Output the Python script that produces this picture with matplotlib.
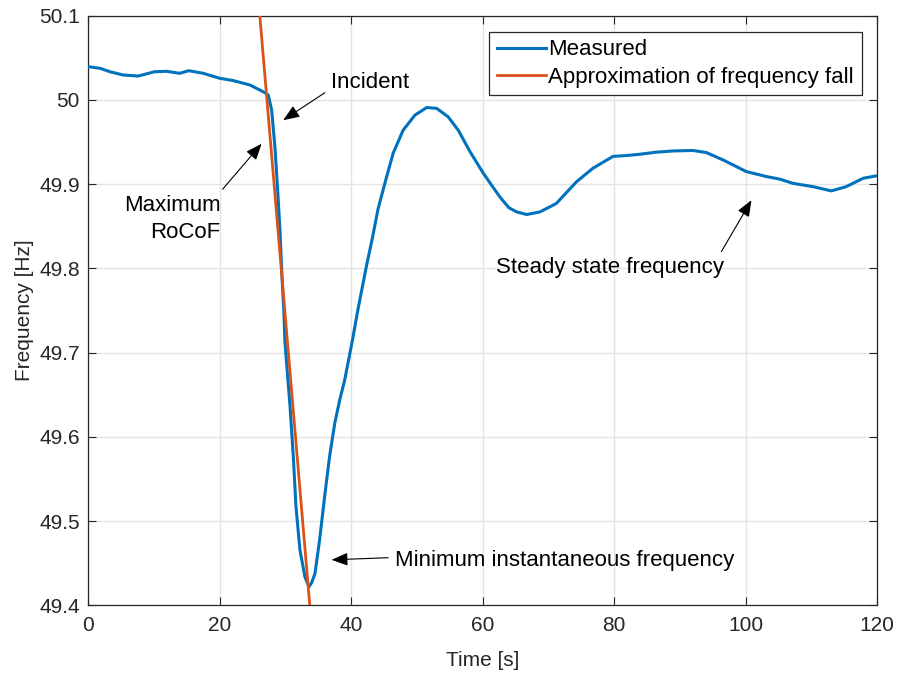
import numpy as np
import matplotlib
matplotlib.use("Agg")
import matplotlib.pyplot as plt

# measured frequency
time_s = [0, 1.8, 3.3, 5.3, 7.6, 10.1, 11.9, 13.9, 15.3, 17.5, 20.0, 22.05, 24.6, 26.1,
          26.87, 27.38, 27.9, 28.4, 28.75, 29.16, 29.5, 29.77, 29.9, 30.3, 30.7, 31.2,
          31.6, 32.2, 32.95, 33.57, 34.0, 34.5, 35.2, 35.96, 36.7, 37.5, 38.26, 39.0,
          39.8, 40.2, 41.0, 42.3, 43.2, 44.1, 45.4, 46.4, 47.9, 49.7, 51.5, 53.0,
          54.75, 56.3, 58.05, 60.1, 62.6, 64.0, 65.2, 66.7, 68.7, 71.2, 74.3, 76.8,
          79.85, 81.9, 83.9, 86.45, 88.97, 92.0, 94.05, 96.6, 100.1, 103.2, 105.2,
          107.2, 110.3, 113.06, 115.3, 117.9, 120]
freq_hz = [50.0395, 50.0375, 50.0335, 50.0296, 50.0284, 50.0335, 50.034, 50.0316, 50.0347,
           50.0316, 50.0257, 50.023, 50.0177, 50.0118, 50.0086, 50.0058, 49.988, 49.944,
           49.901, 49.846, 49.786, 49.747, 49.715, 49.675, 49.636, 49.576, 49.517,
           49.466, 49.434, 49.422, 49.427, 49.438, 49.478, 49.529, 49.576, 49.616,
           49.644, 49.667, 49.699, 49.715, 49.75, 49.802, 49.835, 49.871, 49.909,
           49.937, 49.964, 49.982, 49.991, 49.990, 49.980, 49.964, 49.939, 49.913,
           49.885, 49.872, 49.867, 49.864, 49.867, 49.877, 49.903, 49.919, 49.933,
           49.934, 49.9355, 49.938, 49.9394, 49.940, 49.9375, 49.9287, 49.915, 49.909,
           49.906, 49.901, 49.897, 49.892, 49.897, 49.907, 49.910]

# linear approximation of the frequency fall
approx_t = [26.1, 33.7]
approx_f = [50.1, 49.4]

xticks = [0, 20, 40, 60, 80, 100, 120]
yticks = [49.4, 49.5, 49.6, 49.7, 49.8, 49.9, 50.0, 50.1]
yticklabels = ["49.4", "49.5", "49.6", "49.7", "49.8", "49.9", "50", "50.1"]

plt.rcParams['font.family'] = ['Liberation Sans', 'DejaVu Sans']
dark = '#262626'

fig = plt.figure(figsize=(8.98, 6.77), dpi=100)
ax = fig.add_axes([0.0983, 0.1059, 0.8783, 0.8709])

ax.plot(time_s, freq_hz, color='#0072BD', lw=2.2, label='Measured', zorder=3,
        solid_joinstyle='round')
ax.plot(approx_t, approx_f, color='#D95319', lw=2.0,
        label='Approximation of frequency fall', zorder=4)

ax.set_xlim(0, 120)
ax.set_ylim(49.4, 50.1)
ax.set_xticks(xticks)
ax.set_yticks(yticks)
ax.set_yticklabels(yticklabels)
ax.grid(True, color='#e3e3e3', lw=1.0)
ax.set_axisbelow(True)
ax.tick_params(direction='in', length=6, width=0.8, colors=dark, labelsize=15,
               top=True, right=True)
ax.tick_params(axis='x', pad=8)
ax.tick_params(axis='y', pad=6)
for s in ax.spines.values():
    s.set_color(dark)
    s.set_linewidth(0.9)

ax.set_xlabel('Time [s]', fontsize=15, color=dark, labelpad=11)
ax.set_ylabel('Frequency [Hz]', fontsize=15, color=dark, labelpad=4)

leg = ax.legend(loc='upper right', bbox_to_anchor=(0.9806, 0.9729), borderaxespad=0,
                fontsize=16, fancybox=False, framealpha=1, edgecolor=dark,
                handlelength=2.2, handletextpad=0.1, labelspacing=0.28,
                borderpad=0.35)
leg.get_frame().set_linewidth(0.9)

arrow = dict(arrowstyle='-|>,head_length=0.55,head_width=0.22', color='black',
             lw=0.8, mutation_scale=18, shrinkA=0, shrinkB=0)
ax.annotate('', xy=(29.66, 49.976), xytext=(36.0, 50.0086), arrowprops=arrow)
ax.annotate('', xy=(26.37, 49.948), xytext=(20.44, 49.894), arrowprops=arrow)
ax.annotate('', xy=(37.02, 49.454), xytext=(45.63, 49.4565), arrowprops=arrow)
ax.annotate('', xy=(100.9, 49.881), xytext=(96.33, 49.820), arrowprops=arrow)

tkw = dict(fontsize=16, color='black', va='baseline')
ax.text(36.9, 50.0138, 'Incident', ha='left', **tkw)
ax.text(20.17, 49.868, 'Maximum', ha='right', **tkw)
ax.text(20.17, 49.836, 'RoCoF', ha='right', **tkw)
ax.text(46.65, 49.447, 'Minimum instantaneous frequency', ha='left', **tkw)
ax.text(62.0, 49.794, 'Steady state frequency', ha='left', **tkw)

fig.savefig('out.png', dpi=100)
